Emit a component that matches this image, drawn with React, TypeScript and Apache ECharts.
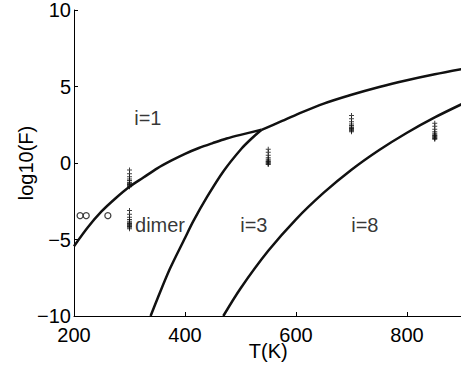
import React, { useEffect, useRef } from "react";
import * as echarts from "echarts";

// Boundary curves: [T, log10(F)]
const monomerDimerBoundary: number[][] = [
  [200, -5.44], [225, -4.2], [250, -3.15], [275, -2.3], [300, -1.55], [325, -0.95],
  [350, -0.35], [375, 0.15], [400, 0.6], [425, 0.98], [450, 1.3], [475, 1.6],
  [500, 1.84], [538, 2.17],
];
const upperBoundary: number[][] = [
  [538, 2.17], [575, 2.75], [600, 3.15], [650, 3.88], [700, 4.46], [750, 4.97],
  [800, 5.41], [850, 5.8], [900, 6.15],
];
const trimerBoundary: number[][] = [
  [338, -10], [350, -8.9], [373, -6.9], [400, -4.9], [415, -3.8], [440, -2.2],
  [469, -0.55], [502, 0.95], [520, 1.6], [538, 2.17],
];
const octamerBoundary: number[][] = [
  [469, -10], [500, -8.2], [550, -5.74], [600, -3.68], [650, -1.94], [700, -0.44],
  [750, 0.85], [800, 1.98], [850, 2.98], [900, 3.87],
];

// Simulation points (+)
const plus300Upper = [-0.45, -0.7, -0.9, -1.05, -1.15, -1.25, -1.3, -1.35, -1.4, -1.45, -1.5, -1.55];
const plus300Lower = [-3.1, -3.35, -3.55, -3.7, -3.8, -3.9, -3.95, -4.0, -4.05, -4.1, -4.15, -4.2, -4.3];
const plus550 = [0.9, 0.7, 0.5, 0.35, 0.25, 0.15, 0.1, 0.05, 0.0, -0.05, -0.1];
const plus700 = [3.1, 2.9, 2.7, 2.55, 2.45, 2.35, 2.3, 2.25, 2.2, 2.15, 2.1, 2.05];
const plus850 = [2.6, 2.4, 2.2, 2.05, 1.95, 1.85, 1.8, 1.75, 1.7, 1.65, 1.6, 1.55];

// Experimental points (o)
const circleT = [211, 222, 261];
const circleY = [-3.44, -3.44, -3.44];

// Region labels
const regionLabels: [number, number, string][] = [
  [333, 2.93, "i=1"],
  [355, -4.07, "dimer"],
  [524, -4.07, "i=3"],
  [724, -4.07, "i=8"],
];

const xTicks = { min: 200, max: 900, interval: 200 };
const yTicks = { min: -10, max: 10, interval: 5 };

const FONT = "Liberation Sans, Arial, Helvetica, sans-serif";
const PLUS = "path://M4,0h2v4h4v2h-4v4h-2v-4h-4v-2h4z";

export default function App() {
  const ref = useRef<HTMLDivElement>(null);
  useEffect(() => {
    if (!ref.current) return;
    const chart = echarts.init(ref.current, null, { renderer: "svg" });
    const plusData: number[][] = [
      ...plus300Upper.map((v) => [300, v]),
      ...plus300Lower.map((v) => [300, v]),
      ...plus550.map((v) => [550, v]),
      ...plus700.map((v) => [700, v]),
      ...plus850.map((v) => [850, v]),
    ];
    const lineSeries = (data: number[][]) => ({
      type: "line",
      data,
      showSymbol: false,
      smooth: 0.3,
      lineStyle: { color: "#111", width: 2.5 },
      silent: true,
      z: 3,
    });
    chart.setOption({
      animation: false,
      backgroundColor: "#fff",
      grid: {
        left: 74,
        top: 10,
        right: -1.5,
        bottom: 53,
        containLabel: false,
        outerBoundsMode: "none",
      },
      xAxis: {
        type: "value",
        min: xTicks.min,
        max: xTicks.max,
        interval: xTicks.interval,
        name: "T(K)",
        nameLocation: "middle",
        nameGap: 25,
        nameMoveOverlap: false,
        nameTextStyle: { fontSize: 20, color: "#000", fontFamily: FONT, lineHeight: 20 },
        splitLine: { show: false },
        axisLine: { onZero: false, lineStyle: { color: "#000", width: 1 } },
        axisTick: { inside: true, length: 4, lineStyle: { color: "#000" } },
        axisLabel: {
          fontSize: 20,
          lineHeight: 15,
          color: "#000",
          fontFamily: FONT,
          margin: 11,
          showMaxLabel: false,
        },
      },
      yAxis: {
        type: "value",
        min: yTicks.min,
        max: yTicks.max,
        interval: yTicks.interval,
        name: "log10(F)",
        nameLocation: "middle",
        nameGap: 38,
        nameMoveOverlap: false,
        nameTextStyle: { fontSize: 20, color: "#000", fontFamily: FONT, lineHeight: 20 },
        splitLine: { show: false },
        axisLine: { show: true, onZero: false, lineStyle: { color: "#000", width: 1 } },
        axisTick: { show: true, inside: true, length: 4, lineStyle: { color: "#000" } },
        axisLabel: {
          fontSize: 20,
          lineHeight: 15,
          color: "#000",
          fontFamily: FONT,
          margin: 3,
          formatter: (v: number) => String(v).replace("-", "\u2212"),
        },
      },
      series: [
        lineSeries(monomerDimerBoundary),
        lineSeries(upperBoundary),
        lineSeries(trimerBoundary),
        lineSeries(octamerBoundary),
        {
          type: "scatter",
          data: plusData,
          symbol: PLUS,
          symbolSize: 5,
          itemStyle: { color: "#111" },
          z: 4,
        },
        {
          type: "scatter",
          data: circleT.map((t, i) => [t, circleY[i]]),
          symbol: "circle",
          symbolSize: 6,
          itemStyle: { color: "#fff", borderColor: "#111", borderWidth: 1.3 },
          z: 4,
        },
        {
          type: "scatter",
          data: regionLabels.map((d) => [d[0], d[1], d[2]]),
          symbolSize: 0,
          silent: true,
          label: {
            show: true,
            position: "inside",
            formatter: (p: any) => p.value[2],
            fontSize: 20,
            color: "#000",
            fontFamily: FONT,
          },
          z: 5,
        },
      ],
    });
    return () => chart.dispose();
  }, []);
  return (
    <div
      ref={ref}
      style={{ position: "fixed", left: 0, top: 0, width: 461, height: 369 }}
    />
  );
}
